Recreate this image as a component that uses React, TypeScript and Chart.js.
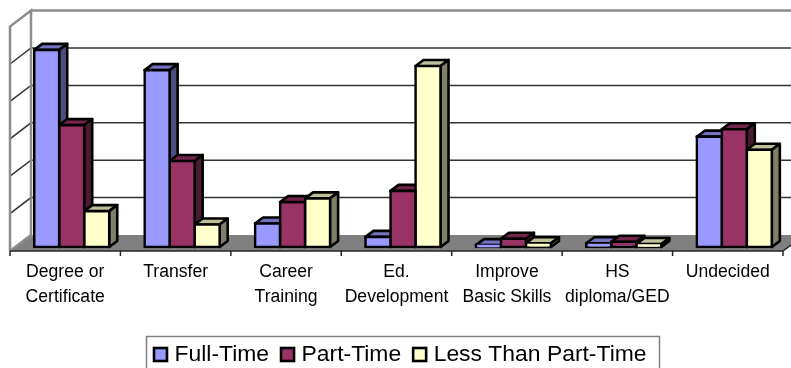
import React, { useEffect, useRef } from "react";
import { Chart, registerables } from "chart.js";

Chart.register(...registerables);

const categories = [
  ["Degree or", "Certificate"],
  ["Transfer"],
  ["Career", "Training"],
  ["Ed.", "Development"],
  ["Improve", "Basic Skills"],
  ["HS", "diploma/GED"],
  ["Undecided"],
];
const fullTime = [52.7, 47.3, 6.3, 2.7, 0.5, 1.0, 29.5];
const partTime = [32.6, 23.0, 12.0, 15.0, 2.2, 1.4, 31.5];
const lessThanPartTime = [9.6, 6.0, 13.0, 48.4, 1.0, 0.8, 26.0];
const seriesNames = ["Full-Time", "Part-Time", "Less Than Part-Time"];
const faceColors = ["#9999FF", "#993366", "#FFFFCC"];
const sideColors = ["#4D4D80", "#4D1A33", "#808066"];
const topColors = ["#7373BF", "#73264D", "#BFBF99"];
const gridValues = [10, 20, 30, 40, 50, 60];

// Offsets between the plane of the bar fronts and the front / back of the floor.
const FRONT = { x: -6.5, y: 4 };
const BACK = { x: 14.5, y: -12 };
const BAR_DEPTH = { x: 8, y: 6 };
const BAR_LINE = 2.6;

const roomPlugin = {
  id: "room",
  beforeDatasetsDraw(chart: any) {
    const { ctx, chartArea, scales } = chart;
    const y = scales.y;
    const fl = chartArea.left + FRONT.x;
    const fr = chartArea.right + FRONT.x;
    const fb = y.getPixelForValue(0) + FRONT.y;
    const bl = chartArea.left + BACK.x;
    const br = chartArea.right + BACK.x;
    const bb = y.getPixelForValue(0) + BACK.y;
    const bt = y.getPixelForValue(60) + BACK.y;
    const ft = y.getPixelForValue(60) + FRONT.y;

    ctx.save();
    // floor
    ctx.fillStyle = "#808080";
    ctx.beginPath();
    ctx.moveTo(fl, fb);
    ctx.lineTo(fr, fb);
    ctx.lineTo(br, bb);
    ctx.lineTo(bl, bb);
    ctx.closePath();
    ctx.fill();

    // gridlines across the back wall and down the side wall
    ctx.strokeStyle = "#333333";
    ctx.lineWidth = 1.5;
    for (const v of gridValues.slice(0, -1)) {
      const py = y.getPixelForValue(v);
      ctx.beginPath();
      ctx.moveTo(fl, py + FRONT.y);
      ctx.lineTo(bl, py + BACK.y);
      ctx.lineTo(br, py + BACK.y);
      ctx.stroke();
    }

    // outline of the walls
    ctx.strokeStyle = "#8C8C8C";
    ctx.lineWidth = 2.5;
    ctx.beginPath();
    ctx.moveTo(fl, fb);
    ctx.lineTo(fl, ft);
    ctx.lineTo(bl, bt);
    ctx.lineTo(bl, bb);
    ctx.lineTo(fl, fb);
    ctx.moveTo(bl, bt);
    ctx.lineTo(br, bt);
    ctx.stroke();

    // front edge of the floor with category ticks
    ctx.strokeStyle = "#262626";
    ctx.lineWidth = 1.5;
    ctx.beginPath();
    ctx.moveTo(fl, fb);
    ctx.lineTo(fr, fb);
    ctx.lineTo(fr + 8, fb - 6);
    const step = (fr - fl) / categories.length;
    for (let i = 0; i <= categories.length; i++) {
      ctx.moveTo(fl + i * step, fb);
      ctx.lineTo(fl + i * step, fb + 5);
    }
    ctx.stroke();

    // side and top faces of every bar, left to right, under all the front faces
    ctx.strokeStyle = "#000000";
    ctx.lineWidth = BAR_LINE;
    ctx.lineJoin = "round";
    categories.forEach((_, c) => {
      seriesNames.forEach((__, i) => {
        const bar = chart.getDatasetMeta(i).data[c];
        const half = bar.width / 2;
        const l = bar.x - half;
        const r = bar.x + half;
        const t = bar.y;
        const b = bar.base;
        ctx.fillStyle = topColors[i];
        ctx.beginPath();
        ctx.moveTo(l, t);
        ctx.lineTo(l + BAR_DEPTH.x, t - BAR_DEPTH.y);
        ctx.lineTo(r + BAR_DEPTH.x, t - BAR_DEPTH.y);
        ctx.lineTo(r, t);
        ctx.closePath();
        ctx.fill();
        ctx.stroke();
        ctx.fillStyle = sideColors[i];
        ctx.beginPath();
        ctx.moveTo(r, t);
        ctx.lineTo(r + BAR_DEPTH.x, t - BAR_DEPTH.y);
        ctx.lineTo(r + BAR_DEPTH.x, b - BAR_DEPTH.y);
        ctx.lineTo(r, b);
        ctx.closePath();
        ctx.fill();
        ctx.stroke();
      });
    });
    ctx.restore();
  },
};

const legendBoxPlugin = {
  id: "legendBox",
  afterDraw(chart: any) {
    const { ctx } = chart;
    ctx.save();
    ctx.strokeStyle = "#808080";
    ctx.lineWidth = 1.5;
    ctx.strokeRect(146.5, 336.5, 513, 34);
    ctx.font = '22.9px "Liberation Sans"';
    ctx.textBaseline = "middle";
    let x = 154;
    seriesNames.forEach((name, i) => {
      ctx.fillStyle = faceColors[i];
      ctx.strokeStyle = "#000000";
      ctx.lineWidth = BAR_LINE;
      ctx.fillRect(x, 348, 13, 13);
      ctx.strokeRect(x, 348, 13, 13);
      ctx.fillStyle = "#000000";
      ctx.fillText(name, x + 20.5, 355);
      x += 20.5 + ctx.measureText(name).width + 12;
    });
    ctx.restore();
  },
};

export default function App() {
  const ref = useRef<HTMLCanvasElement>(null);
  useEffect(() => {
    const series = [fullTime, partTime, lessThanPartTime];
    const chart = new Chart(ref.current!, {
      type: "bar",
      data: {
        labels: categories as any,
        datasets: series.map((data, i) => ({
          label: seriesNames[i],
          data,
          backgroundColor: faceColors[i],
          borderColor: "#000000",
          borderWidth: BAR_LINE,
          borderSkipped: false,
          inflateAmount: BAR_LINE / 2,
          categoryPercentage: 0.68,
          barPercentage: 1,
          clip: false as any,
        })),
      },
      options: {
        responsive: false,
        animation: false,
        events: [],
        layout: { padding: { left: 16.5, right: 1.5, top: 22.6, bottom: 0 } },
        plugins: { legend: { display: false }, tooltip: { enabled: false } },
        scales: {
          x: {
            grid: { display: false },
            border: { display: false },
            afterFit(scale: any) {
              scale.height = 121;
            },
            ticks: {
              autoSkip: false,
              maxRotation: 0,
              minRotation: 0,
              labelOffset: -6.5,
              padding: 5,
              color: "#000000",
              font: { family: '"Liberation Sans"', size: 17.6, lineHeight: 1.42 },
            },
          },
          y: { display: false, min: 0, max: 60 },
        },
      },
      plugins: [roomPlugin, legendBoxPlugin],
    });
    return () => chart.destroy();
  }, []);
  return (
    <div style={{ position: "absolute", left: 0, top: 0, width: 791, height: 368, overflow: "hidden", background: "#fff" }}>
      <canvas ref={ref} width={791} height={368} style={{ display: "block" }} />
    </div>
  );
}
